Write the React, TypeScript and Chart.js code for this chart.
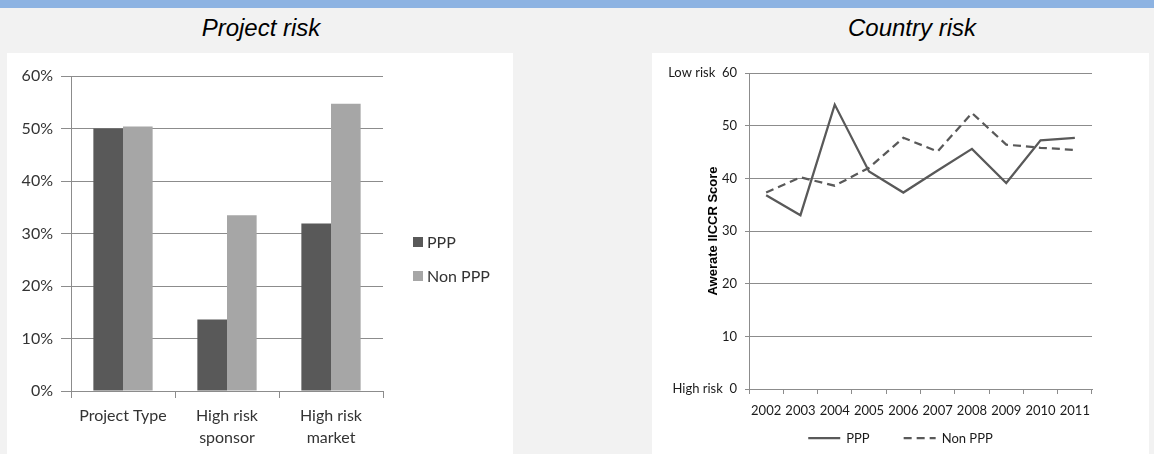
import React, { useEffect, useRef } from 'react';
import { Chart, registerables } from 'chart.js';

Chart.register(...registerables);

// ---- Data: Project risk (bar chart) ----
const riskCategories: (string | string[])[] = ['Project Type', ['High risk', 'sponsor'], ['High risk', 'market']];
const pppShare = [0.5, 0.136, 0.319];
const nonPppShare = [0.504, 0.335, 0.547];
const seriesNames = ['PPP', 'Non PPP'];

// ---- Data: Country risk (line chart) ----
const years = ['2002', '2003', '2004', '2005', '2006', '2007', '2008', '2009', '2010', '2011'];
const pppScore = [36.8, 33.0, 54.0, 41.3, 37.3, 41.5, 45.6, 39.1, 47.2, 47.7];
const nonPppScore = [37.3, 40.2, 38.6, 42.0, 47.7, 45.1, 52.4, 46.4, 45.8, 45.4];
const scoreAxisEnds = ['High risk', 'Low risk'];
const scoreAxisTitle = 'Awerate IICCR Score';

const DARK = '#595959';
const LIGHT = '#A6A6A6';
const GRID = '#8C8C8C';
const FONT = 'Lato, "Liberation Sans", sans-serif';

const barLegend = {
  id: 'barLegend',
  afterDraw(chart: any) {
    const ctx = chart.ctx;
    const { right, top } = chart.chartArea;
    ctx.save();
    ctx.font = `16px ${FONT}`;
    ctx.textBaseline = 'middle';
    ctx.textAlign = 'left';
    chart.data.datasets.forEach((ds: any, i: number) => {
      const y = top + 166 + i * 34;
      const x = right + 30;
      ctx.fillStyle = ds.backgroundColor;
      ctx.fillRect(x, y - 5, 10, 10);
      ctx.fillStyle = '#333333';
      ctx.fillText(ds.label, x + 14, y + 1);
    });
    ctx.restore();
  },
};

const lineLegend = {
  id: 'lineLegend',
  afterDraw(chart: any) {
    const ctx = chart.ctx;
    ctx.save();
    ctx.font = `13px ${FONT}`;
    ctx.textBaseline = 'middle';
    ctx.textAlign = 'left';
    const sample = 32;
    const gap = 6;
    const between = 34;
    const items = chart.data.datasets.map((ds: any) => ({ ds, w: ctx.measureText(ds.label).width }));
    const total = items.reduce((s: number, it: any) => s + sample + gap + it.w, 0) + between * (items.length - 1);
    let x = chart.width / 2 - total / 2;
    const y = chart.chartArea.bottom + 49;
    items.forEach((it: any) => {
      ctx.strokeStyle = it.ds.borderColor;
      ctx.lineWidth = 2.25;
      ctx.setLineDash(it.ds.borderDash || []);
      ctx.beginPath();
      ctx.moveTo(x, y);
      ctx.lineTo(x + sample, y);
      ctx.stroke();
      ctx.setLineDash([]);
      ctx.fillStyle = '#1a1a1a';
      ctx.fillText(it.ds.label, x + sample + gap, y + 1);
      x += sample + gap + it.w + between;
    });
    ctx.restore();
  },
};

function ProjectRiskChart() {
  const ref = useRef<HTMLCanvasElement>(null);
  useEffect(() => {
    if (!ref.current) return;
    const chart = new Chart(ref.current, {
      type: 'bar',
      data: {
        labels: riskCategories as any,
        datasets: [
          { label: seriesNames[0], data: pppShare, backgroundColor: DARK, categoryPercentage: 0.57, barPercentage: 1 },
          { label: seriesNames[1], data: nonPppShare, backgroundColor: LIGHT, categoryPercentage: 0.57, barPercentage: 1 },
        ],
      },
      options: {
        animation: false,
        responsive: false,
        maintainAspectRatio: false,
        layout: { padding: { top: 23, right: 130, left: 0, bottom: 0 } },
        plugins: { legend: { display: false }, tooltip: { enabled: false } },
        scales: {
          x: {
            grid: { drawOnChartArea: false, drawTicks: true, tickLength: 7, color: GRID, offset: true },
            border: { color: GRID },
            ticks: { font: { family: FONT, size: 16, lineHeight: 1.38 }, color: '#333333', padding: 7, maxRotation: 0 },
            afterFit: (s: any) => { s.height = 63; },
          },
          y: {
            min: 0,
            max: 0.6,
            ticks: {
              stepSize: 0.1,
              callback: (v: any) => Math.round(Number(v) * 100) + '%',
              font: { family: FONT, size: 16 },
              color: '#333333',
              padding: 8,
            },
            grid: { color: GRID, tickLength: 10 },
            border: { color: GRID },
            afterFit: (s: any) => { s.width = 64; },
          },
        },
      },
      plugins: [barLegend],
    });
    return () => chart.destroy();
  }, []);
  return <canvas ref={ref} width={506} height={401} style={{ width: 506, height: 401, display: 'block' }} />;
}

function CountryRiskChart() {
  const ref = useRef<HTMLCanvasElement>(null);
  useEffect(() => {
    if (!ref.current) return;
    const chart = new Chart(ref.current, {
      type: 'line',
      data: {
        labels: years,
        datasets: [
          { label: seriesNames[0], data: pppScore, borderColor: DARK, borderWidth: 2.25, pointRadius: 0, tension: 0, fill: false },
          { label: seriesNames[1], data: nonPppScore, borderColor: DARK, borderWidth: 2.25, borderDash: [8, 5], pointRadius: 0, tension: 0, fill: false },
        ],
      },
      options: {
        animation: false,
        responsive: false,
        maintainAspectRatio: false,
        layout: { padding: { top: 20, right: 57, left: 0, bottom: 0 } },
        plugins: { legend: { display: false }, tooltip: { enabled: false } },
        scales: {
          x: {
            offset: true,
            grid: { drawOnChartArea: false, drawTicks: true, tickLength: 5, color: GRID, offset: true },
            border: { color: GRID },
            ticks: { font: { family: FONT, size: 13 }, color: '#1a1a1a', padding: 9, maxRotation: 0, autoSkip: false },
            afterFit: (s: any) => { s.height = 65; },
          },
          y: {
            min: 0,
            max: 60,
            ticks: {
              stepSize: 10,
              callback: (v: any) => {
                const n = Number(v);
                if (n === 0) return scoreAxisEnds[0] + '  0';
                if (n === 60) return scoreAxisEnds[1] + '  60';
                return String(n);
              },
              font: { family: FONT, size: 13 },
              color: '#1a1a1a',
              padding: 8,
            },
            grid: { color: GRID, tickLength: 4 },
            border: { color: GRID },
            title: {
              display: true,
              text: scoreAxisTitle,
              font: { family: '"Liberation Sans", Arial, sans-serif', size: 13, weight: 'bold' },
              color: '#000',
              padding: { top: 54, bottom: 0 },
            },
            afterFit: (s: any) => { s.width = 97; },
          },
        },
      },
      plugins: [lineLegend],
    });
    return () => chart.destroy();
  }, []);
  return <canvas ref={ref} width={497} height={401} style={{ width: 497, height: 401, display: 'block' }} />;
}

export default function App() {
  const titleStyle: React.CSSProperties = {
    position: 'absolute',
    top: 13,
    fontFamily: '"Liberation Sans", Arial, sans-serif',
    fontStyle: 'italic',
    fontSize: 24,
    color: '#000',
    lineHeight: '30px',
    whiteSpace: 'nowrap',
    transform: 'translateX(-50%)',
  };
  return (
    <div style={{ position: 'fixed', left: 0, top: 0, width: 1154, height: 454, background: '#F2F2F2', overflow: 'hidden' }}>
      <div style={{ position: 'absolute', left: 0, top: 0, width: 1154, height: 8, background: '#8DB3E2' }} />
      <div style={{ ...titleStyle, left: 261 }}>Project risk</div>
      <div style={{ ...titleStyle, left: 912 }}>Country risk</div>
      <div style={{ position: 'absolute', left: 7, top: 53, width: 506, height: 401, background: '#fff' }}>
        <ProjectRiskChart />
      </div>
      <div style={{ position: 'absolute', left: 652, top: 53, width: 497, height: 401, background: '#fff' }}>
        <CountryRiskChart />
      </div>
    </div>
  );
}
